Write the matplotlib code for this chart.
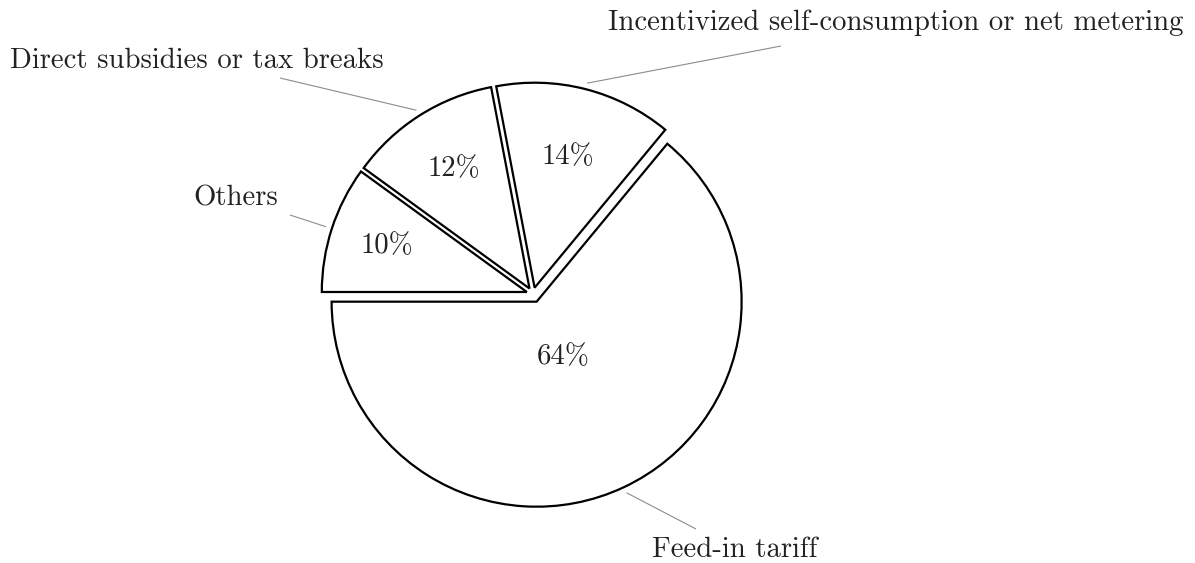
import math
import matplotlib
matplotlib.use("Agg")
import matplotlib.pyplot as plt

# Support instruments for photovoltaics (share of total)
categories = ["Feed-in tariff",
              "Incentivized self-consumption or net metering",
              "Direct subsidies or tax breaks",
              "Others"]
shares = [64, 14, 12, 10]

W, H = 1195, 563
fig = plt.figure(figsize=(W / 100, H / 100), dpi=100)
ax = fig.add_axes([0, 0, 1, 1])

FONT = "cmr10"
FS = 20.7

cx, cy = 533, H - 294
radius = 205
explode = [8.5, 6.5, 6.5, 6.5]

wedges, _, autotexts = ax.pie(
    shares, startangle=180, counterclock=True, explode=explode,
    radius=radius, center=(cx, cy), autopct="%d%%",
    wedgeprops=dict(facecolor="white", edgecolor="black", linewidth=1.6,
                    joinstyle="miter"),
    textprops=dict(fontfamily=FONT, fontsize=FS, color="#222222"),
)

# percentage labels, placed along each slice's mid-angle
pct_pos = [0.30, 0.66, 0.69, 0.72]
for w, t, f in zip(wedges, autotexts, pct_pos):
    mid = math.radians(0.5 * (w.theta1 + w.theta2))
    x0, y0 = w.center
    t.set_position((x0 + f * w.r * math.cos(mid), y0 + f * w.r * math.sin(mid)))
    t.set_ha("center")
    t.set_va("center")

# outer labels with pin lines
pin_end = [(696, 529), (781, 46), (280, 78), (290, 215)]
label_at = [(735, 557), (896, 30.5), (197, 67.5), (236, 206)]
for w, name, (ex, ey), (lx, ly) in zip(wedges, categories, pin_end, label_at):
    mid = math.radians(0.5 * (w.theta1 + w.theta2))
    x0, y0 = w.center
    sx = x0 + 1.03 * w.r * math.cos(mid)
    sy = y0 + 1.03 * w.r * math.sin(mid)
    ax.plot([sx, ex], [sy, H - ey], color="#8c8c8c", lw=0.8,
            solid_capstyle="butt")
    ax.text(lx, H - ly, name, ha="center", va="baseline",
            fontfamily=FONT, fontsize=FS, color="#222222")

ax.set_xlim(0, W)
ax.set_ylim(0, H)
ax.set_aspect("auto")
ax.axis("off")

fig.savefig("out.png", dpi=100, facecolor="white")
